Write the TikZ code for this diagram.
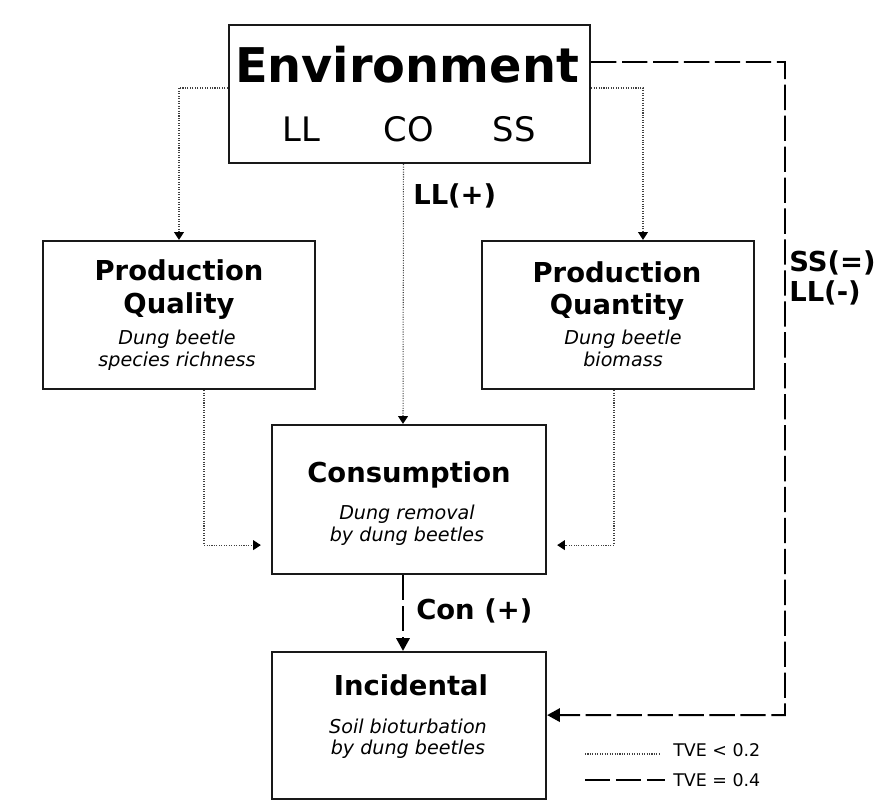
\documentclass[tikz,border=0pt]{standalone}
\usepackage{fontspec}
\setmainfont{DejaVu Sans}
\usetikzlibrary{arrows.meta}
\tikzset{
  box/.style={draw=black!90, line width=1.6pt, inner sep=0pt},
  ttl/.style={font=\fontsize{19.5}{23}\selectfont\bfseries, anchor=base, inner sep=0pt},
  sub/.style={font=\fontsize{13.6}{16}\selectfont\itshape, anchor=base, inner sep=0pt},
  lbl/.style={font=\fontsize{19.5}{23}\selectfont\bfseries, anchor=base west, inner sep=0pt},
  leg/.style={font=\fontsize{12.4}{15}\selectfont, anchor=base west, inner sep=0pt},
  dotline/.style={densely dotted, line width=0.75pt, black!75},
  dotarrow/.style={dotline, -{Triangle[width=7pt,length=5.5pt,black]}},
  dashline/.style={line width=1.4pt, dash pattern=on 18pt off 4pt},
  dasharrow/.style={dashline, -{Triangle[width=9.5pt,length=9pt]}}
}
\begin{document}
\begin{tikzpicture}[x=0.025cm, y=-0.025cm]
\useasboundingbox (0,0) rectangle (890,801);
\node[box, minimum width=9.025cm, minimum height=3.45cm] (env) at (409.5,94) {};
\node[font=\fontsize{34}{40}\selectfont\bfseries, anchor=base, inner sep=0pt] (envT) at (407,83) {Environment};
\node[font=\fontsize{24}{28}\selectfont, anchor=base, inner sep=0pt] (envLL) at (301.5,141.5) {LL};
\node[font=\fontsize{24}{28}\selectfont, anchor=base, inner sep=0pt] (envCO) at (409,141.5) {CO};
\node[font=\fontsize{24}{28}\selectfont, anchor=base, inner sep=0pt] (envSS) at (514,141.5) {SS};
\node[box, minimum width=6.8cm, minimum height=3.7cm] (pqual) at (179,315) {};
\node[ttl] (pqualA) at (179,280.5) {Production};
\node[ttl] (pqualB) at (179,313.5) {Quality};
\node[sub] (pqualC) at (177,345) {Dung beetle};
\node[sub] (pqualD) at (177,367) {species richness};
\node[box, minimum width=6.8cm, minimum height=3.7cm] (pquan) at (618,315) {};
\node[ttl] (pquanA) at (617,282.5) {Production};
\node[ttl] (pquanB) at (617,315) {Quantity};
\node[sub] (pquanC) at (623,345) {Dung beetle};
\node[sub] (pquanD) at (623,367) {biomass};
\node[box, minimum width=6.85cm, minimum height=3.725cm] (cons) at (409,499.5) {};
\node[ttl] (consA) at (409,482) {Consumption};
\node[sub] (consB) at (407,519) {Dung removal};
\node[sub] (consC) at (407,541) {by dung beetles};
\node[box, minimum width=6.85cm, minimum height=3.675cm] (inc) at (409,725.5) {};
\node[ttl] (incA) at (411,695) {Incidental};
\node[sub] (incB) at (408,733) {Soil bioturbation};
\node[sub] (incC) at (408,754) {by dung beetles};
\draw[dotarrow] ([yshift=0.15cm]env.west) -| (pqual.north);
\draw[dotarrow] ([yshift=0.15cm]env.east) -| ([xshift=0.625cm]pquan.north);
\draw[dotarrow] ([xshift=-0.15cm]env.south) -- ([xshift=-0.15cm]cons.north);
\node[lbl] (llPlus) at (413,205) {LL(+)};
\draw[dotarrow, shorten >=0.25cm] ([xshift=0.625cm]pqual.south) |- ([yshift=-1.14cm]cons.west);
\draw[dotarrow, shorten >=0.25cm] ([xshift=-0.1cm]pquan.south) |- ([yshift=-1.14cm]cons.east);
\draw[dasharrow] ([xshift=-0.15cm]cons.south) -- ([xshift=-0.15cm]inc.north);
\node[lbl] (conPlus) at (416,619) {Con (+)};
\coordinate (bend) at (785,62);
\draw[dasharrow] ([yshift=0.8cm]env.east) -- (bend) |- ([yshift=0.26cm]inc.east);
\node[lbl] (ssEq) at (789,272) {SS(=)};
\node[lbl] (llMinus) at (789,302) {LL(-)};
\coordinate (dotA) at (585,754);
\coordinate (dotB) at (660,754);
\draw[dotline] (dotA) -- (dotB);
\node[leg] (tveLow) at (673,756) {TVE < 0.2};
\coordinate (dashA) at (585,780);
\coordinate (dashB) at (665,780);
\draw[dashline] (dashA) -- (dashB);
\node[leg] (tveMid) at (673,786) {TVE = 0.4};
\end{tikzpicture}
\end{document}
